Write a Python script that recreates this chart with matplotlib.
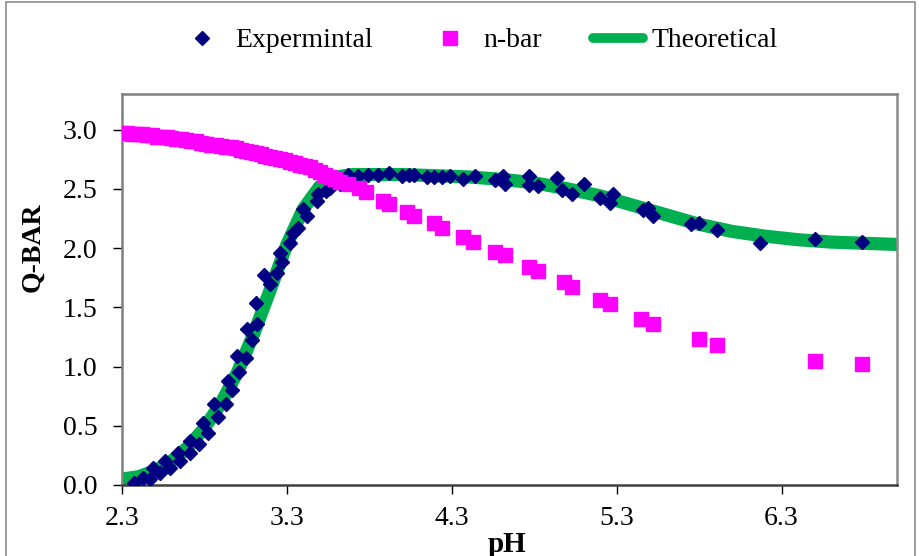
import matplotlib
matplotlib.use("Agg")
import matplotlib.pyplot as plt
from matplotlib.lines import Line2D
from matplotlib.patches import Rectangle

plt.rcParams['font.family'] = ['Liberation Serif', 'DejaVu Serif']

# Experimental Q-bar vs pH
exp_ph = [2.37, 2.43, 2.47, 2.49, 2.53, 2.56, 2.59, 2.64, 2.65, 2.71, 2.71, 2.77,
          2.79, 2.82, 2.86, 2.88, 2.93, 2.94, 2.97, 3.00, 3.01, 3.05, 3.06, 3.09,
          3.11, 3.12, 3.16, 3.20, 3.24, 3.27, 3.26, 3.32, 3.34, 3.37, 3.40, 3.42,
          3.48, 3.49, 3.54, 3.56, 3.62, 3.67, 3.73, 3.79, 3.85, 3.92, 4.00, 4.04,
          4.07, 4.15, 4.19, 4.24, 4.29, 4.37, 4.44, 4.56, 4.61, 4.62, 4.77, 4.77,
          4.82, 4.94, 4.97, 5.03, 5.10, 5.20, 5.26, 5.28, 5.46, 5.49, 5.52, 5.75,
          5.80, 5.91, 6.17, 6.50, 6.79]
exp_q = [0.02, 0.06, 0.05, 0.14, 0.10, 0.20, 0.14, 0.27, 0.20, 0.37, 0.27, 0.35,
         0.52, 0.44, 0.68, 0.57, 0.68, 0.88, 0.80, 1.09, 0.95, 1.07, 1.32, 1.22,
         1.54, 1.36, 1.77, 1.70, 1.79, 1.88, 1.96, 2.04, 2.13, 2.17, 2.33, 2.27,
         2.40, 2.46, 2.48, 2.51, 2.54, 2.62, 2.61, 2.62, 2.62, 2.63, 2.61, 2.62,
         2.62, 2.60, 2.60, 2.60, 2.61, 2.58, 2.61, 2.57, 2.61, 2.54, 2.61, 2.53,
         2.52, 2.59, 2.49, 2.46, 2.54, 2.42, 2.38, 2.46, 2.32, 2.34, 2.27, 2.20,
         2.21, 2.15, 2.04, 2.08, 2.05]

# n-bar vs pH
nbar_ph = [2.30, 2.33, 2.36, 2.39, 2.42, 2.45, 2.48, 2.51, 2.54, 2.57, 2.60, 2.63,
           2.66, 2.69, 2.72, 2.75, 2.78, 2.81, 2.84, 2.87, 2.90, 2.93, 2.96, 2.99,
           3.02, 3.05, 3.08, 3.11, 3.14, 3.17, 3.20, 3.23, 3.26, 3.29, 3.32, 3.35,
           3.38, 3.41, 3.44, 3.47, 3.50, 3.53, 3.56, 3.59, 3.62, 3.67, 3.74, 3.78,
           3.88, 3.92, 4.03, 4.07, 4.19, 4.24, 4.37, 4.43, 4.56, 4.62, 4.77, 4.82,
           4.98, 5.03, 5.20, 5.26, 5.45, 5.52, 5.80, 5.91, 6.50, 6.79]
nbar_v = [2.97, 2.97, 2.96, 2.96, 2.96, 2.95, 2.95, 2.94, 2.94, 2.94, 2.93, 2.92,
          2.92, 2.91, 2.90, 2.90, 2.89, 2.88, 2.87, 2.87, 2.86, 2.85, 2.85, 2.84,
          2.83, 2.82, 2.81, 2.80, 2.79, 2.78, 2.77, 2.76, 2.75, 2.74, 2.73, 2.72,
          2.70, 2.69, 2.68, 2.66, 2.64, 2.62, 2.60, 2.58, 2.56, 2.54, 2.51, 2.47,
          2.40, 2.37, 2.30, 2.27, 2.21, 2.17, 2.09, 2.05, 1.97, 1.94, 1.84, 1.81,
          1.71, 1.67, 1.56, 1.53, 1.40, 1.36, 1.23, 1.18, 1.05, 1.02]

# Theoretical Q-bar curve
theo_ph = [2.30, 2.40, 2.50, 2.60, 2.70, 2.80, 2.90, 3.00, 3.10, 3.20, 3.30, 3.40,
           3.50, 3.60, 3.70, 3.80, 4.00, 4.20, 4.40, 4.60, 4.80, 5.00, 5.20, 5.40,
           5.60, 5.80, 6.00, 6.20, 6.40, 6.60, 6.80, 7.00]
theo_q = [0.05, 0.07, 0.12, 0.20, 0.32, 0.48, 0.69, 0.95, 1.28, 1.65, 2.03, 2.33,
          2.52, 2.60, 2.62, 2.62, 2.62, 2.61, 2.60, 2.58, 2.55, 2.50, 2.44, 2.36,
          2.28, 2.20, 2.14, 2.10, 2.07, 2.05, 2.04, 2.03]

x_ticks = [2.3, 3.3, 4.3, 5.3, 6.3]
y_ticks = [0.0, 0.5, 1.0, 1.5, 2.0, 2.5, 3.0]

NAVY = '#000080'
MAGENTA = '#FF00FF'
GREEN = '#00B050'

fig = plt.figure(figsize=(9.2, 5.56), dpi=100)
ax = fig.add_axes([0.1326, 0.1277, 0.8424, 0.7033])

ax.plot(theo_ph, theo_q, color=GREEN, lw=9.5, solid_capstyle='round',
        solid_joinstyle='round', zorder=2, label='Theoretical')
ax.plot(exp_ph, exp_q, linestyle='none', marker='D', ms=6.9, color=NAVY,
        mec=NAVY, zorder=4, label='Expermintal')
ax.plot(nbar_ph, nbar_v, linestyle='none', marker='s', ms=10.5, color=MAGENTA,
        mec=MAGENTA, zorder=5, label='n-bar')

ax.set_xlim(2.3, 7.0)
ax.set_ylim(0.0, 3.3)
ax.set_xticks(x_ticks)
ax.set_xticklabels([f'{v:.1f}' for v in x_ticks])
ax.set_yticks(y_ticks)
ax.set_yticklabels([f'{v:.1f}' for v in y_ticks])
ax.tick_params(axis='both', direction='out', length=6.3, width=1, color='#000000',
               labelsize=20)
ax.tick_params(axis='y', pad=11.5)
ax.tick_params(axis='x', pad=8.5)
for side in ['left', 'bottom', 'top', 'right']:
    ax.spines[side].set_linewidth(1.8)
ax.spines['left'].set_color('#7f7f7f')
ax.spines['bottom'].set_color('#404040')
ax.spines['top'].set_color('#7f7f7f')
ax.spines['right'].set_color('#8c8c8c')

ax.set_xlabel('pH', fontsize=21, fontweight='bold')
ax.xaxis.set_label_coords(0.497, -0.117)
ax.set_ylabel('Q-BAR', fontsize=20, fontweight='bold', va='center')
ax.yaxis.set_label_coords(-0.115, 0.609)

handles = [
    Line2D([], [], linestyle='none', marker='D', ms=6.9, color=NAVY),
    Line2D([], [], linestyle='none', marker='s', ms=10.5, color=MAGENTA),
    Line2D([], [], color=GREEN, lw=7, solid_capstyle='round'),
]
fig.legend(handles, ['Expermintal', 'n-bar', 'Theoretical'], loc='center',
           bbox_to_anchor=(0.519, 0.927), ncol=3, frameon=False, fontsize=20,
           handlelength=1.8, columnspacing=1.85, handletextpad=0.3,
           borderpad=0.0, borderaxespad=0.0)

fig.patches.append(Rectangle((0.006, -0.01), 0.989, 1.006, transform=fig.transFigure,
                             fill=False, edgecolor='#8c8c8c', lw=1.2))

fig.savefig('out.png', dpi=100)
